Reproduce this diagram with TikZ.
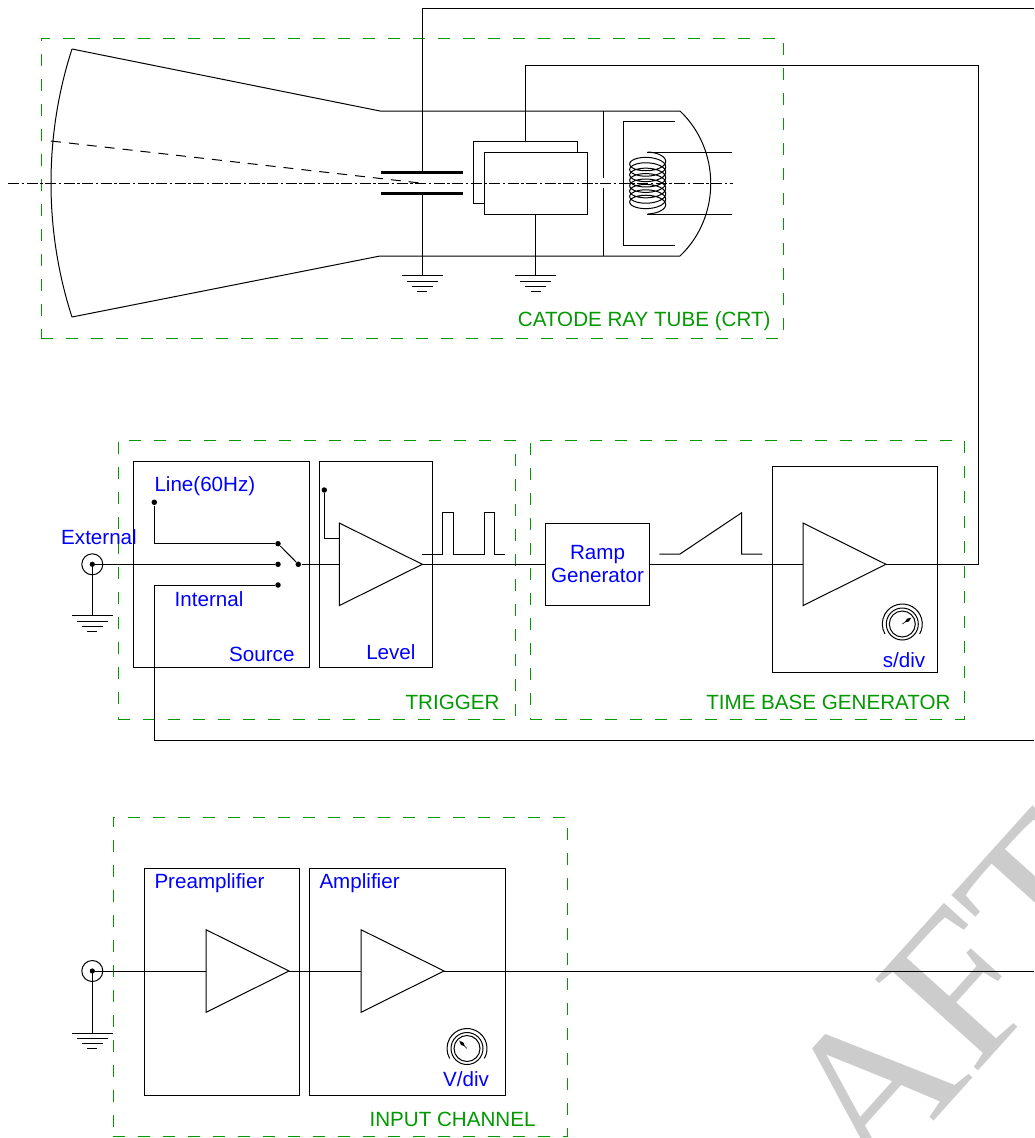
\documentclass[tikz,border=0pt]{standalone}
\usepackage{fontspec}
\setmainfont{Liberation Sans}
\newfontfamily\markfont{Liberation Serif}
\usetikzlibrary{positioning, calc}
\definecolor{labelblue}{HTML}{0000FF}
\definecolor{groupgreen}{HTML}{009900}
\definecolor{watermark}{HTML}{CCCCCC}

\begin{document}
\begin{tikzpicture}[
    x=1pt,
    y=-1pt,
    line width=1pt,
    font=\fontsize{20.6}{23}\selectfont,
    block/.style={
        draw,
        inner sep=0pt,
        outer sep=0pt
    },
    dot/.style={
        circle,
        fill=black,
        inner sep=0pt,
        minimum size=5.5pt
    },
    groupbox/.style={
        draw=groupgreen,
        line width=0.9pt,
        dash pattern=on 12pt off 13pt,
        inner sep=0pt,
        outer sep=0pt
    },
    grouptext/.style={text=groupgreen, anchor=east, inner sep=0pt},
    bluetext/.style={text=labelblue, inner sep=0pt, align=center},
    plate/.style={line width=2.4pt},
    pics/amp/.style={code={
        \draw (0,-41.3) -- (83,0) -- (0,41.3) -- cycle;
        \coordinate (-in) at (0,0);
        \coordinate (-tip) at (83,0);
    }},
    pics/gnd/.style={code={
        \coordinate (-top) at (0,0);
        \draw (-20.5,0) -- (20.5,0);
        \draw (-15.5,5.3) -- (15.5,5.3);
        \draw (-10.5,10.5) -- (10.5,10.5);
        \draw (-5,15.6) -- (5,15.6);
    }},
    pics/bnc/.style={code={
        \draw (0,0) circle (10.5);
        \fill (0,0) circle (2.6);
        \coordinate (-c) at (0,0);
    }},
    pics/knob/.style={code={
        \draw (0,0) circle (16);
        \draw (0,0) circle (13);
        \draw (30:20) arc[start angle=30, end angle=-210, radius=20];
        \fill ({#1}:3) -- ({#1+14}:7) -- ({#1}:11) -- ({#1-14}:7) -- cycle;
        \draw[line width=0.6pt] (0,0) -- ({#1}:4);
    }}
]
\useasboundingbox (0,0) rectangle (1034,1138);

% Watermark
\begin{scope}
    \clip (0,0) rectangle (1034,1138);
    \node[anchor=base west, rotate=48, inner sep=0pt, text=watermark,
        font=\markfont\fontsize{210}{210}\selectfont] (draftmark) at (872,1190) {AFT};
\end{scope}

% Groups
\node[groupbox, minimum width=742pt, minimum height=300pt] (crtgroup) at (412,188) {};
\node[groupbox, minimum width=397pt, minimum height=279pt] (triggergroup) at (316.5,579.5) {};
\node[groupbox, minimum width=434pt, minimum height=279pt] (timegroup) at (747,579.5) {};
\node[groupbox, minimum width=454pt, minimum height=319pt] (inputgroup) at (340,976.5) {};
\node[grouptext] (crtlabel) at (771,321) {CATODE RAY TUBE (CRT)};
\node[grouptext] (triggerlabel) at (500,702) {TRIGGER};
\node[grouptext] (timelabel) at (951,702) {TIME BASE GENERATOR};
\node[grouptext] (inputlabel) at (536,1119) {INPUT CHANNEL};

% Tube
\draw (680,111) -- (380,111) -- (72,49);
\draw (680,256) -- (380,256) -- (72,317);
\draw (72,49) .. controls (44,135) and (44,231) .. (72,317);
\draw (680,111) .. controls (721,150) and (721,217) .. (680,256);
\draw[dash pattern=on 10pt off 8pt] (51,141) -- (420,183);
\draw[plate] (381,172.5) -- (463,172.5);
\draw[plate] (381,193.5) -- (463,193.5);
\coordinate (plateA) at (422,172.5);
\coordinate (plateB) at (422,193.5);

% Gun
\node[block, minimum width=103.4pt, minimum height=62pt] (gridback) at (525.3,172.7) {};
\node[block, fill=white, minimum width=103.4pt, minimum height=62pt] (gridfront) at (535.7,183) {};
\draw (603,111) -- (603,178);
\draw (603,188) -- (603,256);
\draw (675,121) -- (623,121) -- (623,245) -- (675,245);
\draw (647,152) -- (732,152);
\draw (647,214) -- (732,214);
\draw plot[domain=-90:2970, samples=500, variable=\t]
    ({647.7+18*cos(\t)},{160+(\t+90)/360*5.41 + 8*sin(\t)});
\draw[line width=0.8pt, dash pattern=on 11pt off 2.5pt on 2.5pt off 2.5pt] (8,183) -- (733,183);

% Grounds of the tube
\pic (gndA) at (422,275.7) {gnd};
\pic (gndB) at (535.7,275.7) {gnd};
\draw (plateB) -- (gndA-top);
\draw (gridfront) -- (gndB-top);

% Trigger
\node[block, minimum width=175.6pt, minimum height=206pt] (source) at (221.3,564.3) {};
\node[block, minimum width=113.7pt, minimum height=206pt, right=10pt of source] (level) {};
\pic (bncA) at (92.3,564.3) {bnc};
\pic (gndC) at (92.3,615.7) {gnd};
\draw (bncA-c) -- (gndC-top);
\node[dot] (linedot) at (154.3,502.3) {};
\node[dot] (lineend) at (278,543.7) {};
\node[dot] (extend) at (278,564.3) {};
\node[dot] (intend) at (278,585) {};
\node[dot] (swpole) at (298.3,564.3) {};
\node[dot] (leveldot) at (324.3,490) {};
\coordinate (intcorner) at (154.3,585);
\coordinate (intfar) at (1034,740);
\pic (ampA) at (339.3,564.3) {amp};
\coordinate (levelin) at (339.3,538.3);
\draw (linedot) |- (lineend);
\draw (bncA-c) -- (extend);
\draw (lineend) -- (swpole);
\draw (swpole) -- (ampA-in);
\draw (intend) -- (intcorner);
\draw (intcorner) |- (intfar);
\draw (leveldot) |- (levelin);
\draw (422.3,554) -- (442.7,554) -- (442.7,512.7) -- (453.3,512.7) -- (453.3,554)
    -- (484,554) -- (484,512.7) -- (494.7,512.7) -- (494.7,554) -- (504.7,554);

\node[bluetext] (externaltext) at (99,537) {External};
\node[bluetext, anchor=west] (linetext) at (154,486) {Line(60Hz)};
\node[bluetext] (internaltext) at (209,599) {Internal};
\node[bluetext, anchor=east] (sourcetext) at (295,654) {Source};
\node[bluetext, anchor=east] (leveltext) at (416,652) {Level};

% Time base
\node[block, bluetext, text=labelblue, minimum width=103.6pt, minimum height=82.5pt] (ramp) at (597.5,564.3) {Ramp\\Generator};
\node[block, minimum width=165.4pt, minimum height=206.5pt] (sweep) at (855,569.5) {};
\pic (ampB) at (803,564.3) {amp};
\coordinate (rampturn) at (978,564.3);
\coordinate (gridturn) at (978,65);
\draw (ampA-tip) -- (ramp);
\draw (ramp) -- (ampB-in);
\draw (659.3,554) -- (680,554) -- (741.7,512.7) -- (741.7,554) -- (762.3,554);
\draw (ampB-tip) -- (rampturn) -- (gridturn) -| (gridback);
\pic at (902.3,624) {knob=-35};
\node[bluetext] (sdivtext) at (904,660) {s/div};

% Deflection wire
\coordinate (topfar) at (1034,8);
\draw (plateA) |- (topfar);

% Input channel
\node[block, minimum width=155pt, minimum height=227pt] (preamp) at (221.5,981.5) {};
\node[block, minimum width=196pt, minimum height=227pt, right=10pt of preamp] (mainamp) {};
\pic (bncB) at (92.3,971) {bnc};
\pic (gndD) at (92.3,1033) {gnd};
\pic (ampC) at (206,971) {amp};
\pic (ampD) at (361,971) {amp};
\coordinate (inputfar) at (1034,971);
\draw (bncB-c) -- (gndD-top);
\draw (bncB-c) -- (ampC-in);
\draw (ampC-tip) -- (ampD-in);
\draw (ampD-tip) -- (inputfar);
\pic at (467,1048.5) {knob=-135};
\node[bluetext, anchor=west] (pretext) at (154,883) {Preamplifier};
\node[bluetext, anchor=west] (amptext) at (319,883) {Amplifier};
\node[bluetext] (vdivtext) at (466,1079) {V/div};

\end{tikzpicture}
\end{document}
